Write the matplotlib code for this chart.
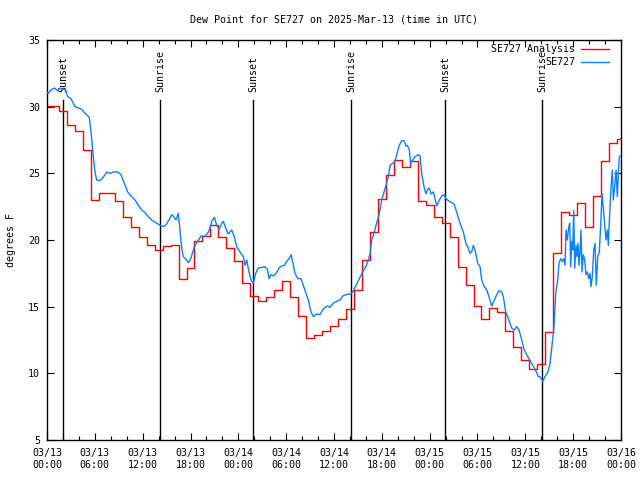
import numpy as np
import matplotlib
matplotlib.use("Agg")
from matplotlib import pyplot as plt
from matplotlib.ticker import MultipleLocator

# hours since 03/13 00:00 UTC
analysis_hours = list(range(73))
analysis_vals = [30.05, 30.05, 29.65, 28.6, 28.2, 26.75, 23.0, 23.5, 23.5, 22.95,
                 21.7, 20.95, 20.25, 19.6, 19.25, 19.55, 19.6, 17.1, 17.9, 19.9,
                 20.3, 21.1, 20.25, 19.4, 18.4, 16.75, 15.8, 15.4, 15.7, 16.25,
                 16.9, 15.7, 14.3, 12.65, 12.9, 13.2, 13.55, 14.1, 14.8, 16.25,
                 18.5, 20.6, 23.1, 24.9, 26.0, 25.45, 25.9, 22.9, 22.6, 21.7,
                 21.3, 20.2, 17.95, 16.6, 15.05, 14.1, 14.9, 14.6, 13.2, 11.95,
                 11.0, 10.3, 10.7, 13.1, 19.0, 22.1, 21.85, 22.8, 21.0, 23.3,
                 25.9, 27.3, 27.55]

obs_hours = [0.0, 0.16, 0.5, 0.92, 1.34, 1.63, 2.04, 2.35, 2.6, 3.01,
             3.51, 3.93, 4.35, 4.77, 5.31, 5.52, 5.81, 6.02, 6.23, 6.65,
             7.06, 7.49, 7.9, 8.32, 8.87, 9.28, 9.7, 10.12, 10.62, 11.04,
             11.45, 11.88, 12.29, 12.71, 13.13, 13.64, 14.17, 14.59, 14.89, 15.3,
             15.64, 15.97, 16.18, 16.47, 16.68, 16.9, 17.1, 17.52, 17.72, 18.03,
             18.48, 18.9, 19.32, 19.73, 20.16, 20.45, 20.66, 20.99, 21.29, 21.61,
             21.91, 22.12, 22.42, 22.74, 23.17, 23.49, 23.8, 24.21, 24.62, 24.84,
             25.05, 25.34, 25.59, 25.88, 26.18, 26.5, 26.93, 27.35, 27.68, 27.85,
             28.1, 28.39, 28.81, 29.1, 29.44, 29.77, 30.07, 30.36, 30.61, 30.77,
             31.11, 31.45, 31.86, 32.15, 32.45, 32.78, 33.12, 33.4, 33.83, 34.24,
             34.58, 34.87, 35.21, 35.5,
             35.91, 36.34, 36.75, 37.09, 37.51, 38.01, 38.35, 38.76, 39.17, 39.6,
             40.01, 40.3, 40.52, 40.73, 41.02, 41.27, 41.56, 41.77, 41.98, 42.27,
             42.52, 42.81, 43.03, 43.36, 43.65, 43.87, 44.19, 44.49, 44.78, 45.03,
             45.2, 45.45, 45.62, 45.87, 46.16, 46.58, 46.79, 47.0, 47.29, 47.54,
             47.7, 47.95, 48.17, 48.46, 48.67, 48.88, 49.21, 49.51, 49.8, 50.05,
             50.34, 50.76, 51.05, 51.3, 51.59, 51.89, 52.22, 52.55, 52.84, 53.06,
             53.27, 53.47, 53.69,
             54.03, 54.32, 54.53, 54.86, 55.16, 55.44, 55.78, 56.11, 56.41, 56.7,
             57.03, 57.24, 57.54, 57.87, 58.29, 58.62, 58.92, 59.21, 59.55, 59.87,
             60.17, 60.46, 60.8, 61.13, 61.43, 61.63, 61.84, 62.18, 62.47, 62.81,
             63.1, 63.38, 63.6, 63.81, 64.06, 64.22, 64.44, 64.64, 64.81, 64.98,
             65.1, 65.27, 65.44, 65.57, 65.69, 65.82, 65.94, 66.07, 66.19, 66.36,
             66.48, 66.61, 66.73, 66.86, 66.98, 67.11, 67.27, 67.45, 67.61, 67.78,
             67.95, 68.11, 68.24, 68.4, 68.58, 68.74, 68.9, 69.08, 69.28, 69.49,
             69.62, 69.78, 69.96, 70.12, 70.29, 70.41, 70.59, 70.75, 70.91, 71.04,
             71.21, 71.38, 71.54, 71.67, 71.79, 71.96]
obs_vals = [31.1, 31.0, 31.25, 31.4, 31.2, 31.4, 31.3, 31.25, 30.75, 30.6,
            30.0, 29.9, 29.8, 29.5, 29.2, 28.1, 26.25, 25.1, 24.5, 24.45,
            24.7, 25.1, 25.0, 25.1, 25.1, 24.9, 24.25, 23.6, 23.25, 23.0,
            22.6, 22.25, 22.05, 21.75, 21.5, 21.3, 21.1, 21.0, 21.1, 21.5,
            21.9, 21.7, 21.5, 22.0, 20.75, 19.4, 18.75, 18.5, 18.3, 18.6,
            19.5, 19.9, 20.3, 20.25, 20.5, 20.9, 21.4, 21.7, 21.1, 20.8,
            21.25, 21.4, 20.9, 20.45, 20.75, 20.25, 19.5, 19.1, 18.75, 18.1,
            18.5, 17.6, 17.0, 16.75, 17.5, 17.9, 17.95, 18.0, 17.75, 17.1,
            17.4, 17.3, 17.55, 17.9, 18.05, 18.1, 18.4, 18.6, 18.9, 18.5,
            17.5, 17.1, 17.1, 16.6, 16.1, 15.5, 14.6, 14.25, 14.45, 14.4,
            14.75, 14.95, 15.05, 14.95,
            15.25, 15.4, 15.5, 15.8, 15.9, 15.95, 16.1, 16.6, 17.1, 17.6,
            18.0, 18.5, 18.95, 20.0, 20.5, 21.1, 21.7, 22.25, 23.0, 23.6,
            24.1, 24.75, 25.6, 25.75, 25.9, 26.4, 27.1, 27.45, 27.45, 27.05,
            27.1, 26.75, 25.75, 26.0, 26.25, 26.4, 26.3, 25.0, 24.0, 23.45,
            23.75, 23.9, 23.45, 23.6, 23.1, 22.55, 23.0, 23.3, 23.4, 23.1,
            22.95, 22.8, 22.7, 22.25, 21.7, 21.1, 20.6, 19.75, 19.4, 19.0,
            19.1, 19.6, 19.25,
            18.25, 18.0, 17.0, 16.5, 16.25, 15.75, 15.05, 15.5, 15.9, 16.2,
            16.1, 15.75, 14.6, 14.1, 13.4, 13.25, 13.5, 13.25, 12.5, 11.75,
            11.4, 11.1, 10.75, 10.4, 10.05, 9.75, 9.75, 9.4, 9.75, 10.05,
            10.75, 12.25, 13.5, 16.0, 17.0, 18.25, 18.6, 18.4, 18.6, 18.1,
            20.75, 20.0, 21.0, 21.25, 18.0, 19.9, 19.25, 22.2, 17.9, 19.6,
            18.75, 19.75, 18.1, 19.0, 20.75, 17.6, 18.9, 18.5, 17.4, 17.6,
            17.1, 17.5, 16.5, 17.25, 19.25, 19.75, 16.6, 18.75, 19.1, 21.6,
            23.5, 22.4, 21.25, 20.0, 20.75, 19.6, 22.1, 24.0, 25.25, 23.0,
            24.0, 25.25, 23.25, 25.0, 26.25, 26.3]

sun_hours = [2.0, 14.17, 25.84, 38.13, 49.92, 62.09]
sun_labels = ["Sunset", "Sunrise", "Sunset", "Sunrise", "Sunset", "Sunrise"]

tick_hours = list(range(0, 73, 6))
tick_labels = ["03/13\n00:00", "03/13\n06:00", "03/13\n12:00", "03/13\n18:00",
               "03/14\n00:00", "03/14\n06:00", "03/14\n12:00", "03/14\n18:00",
               "03/15\n00:00", "03/15\n06:00", "03/15\n12:00", "03/15\n18:00",
               "03/16\n00:00"]

plt.rcParams['font.family'] = ['DejaVu Sans Mono']
fs = 7.2

fig = plt.figure(figsize=(6.4, 4.8), dpi=100)
ax = fig.add_axes([47 / 640, 40 / 480, 574 / 640, 400 / 480])

for h, lab in zip(sun_hours, sun_labels):
    ax.axvline(h, ymin=0, ymax=0.85, color='black', lw=1.0, zorder=1)
    ax.text(h, 0.87, lab, rotation=90, ha='center', va='bottom', fontsize=fs,
            transform=ax.get_xaxis_transform())

ax.plot(analysis_hours, analysis_vals, drawstyle='steps-mid', color='#ff0000', lw=1.0, zorder=2)
ax.plot(obs_hours, obs_vals, color='#0a80ff', lw=1.0, zorder=3)

ax.set_xlim(0, 72)
ax.set_ylim(5, 35)
ax.set_xticks(tick_hours)
ax.set_xticklabels(tick_labels, fontsize=fs)
ax.xaxis.set_minor_locator(MultipleLocator(2))
ax.yaxis.set_major_locator(MultipleLocator(5))
ax.tick_params(axis='both', which='both', direction='in', top=True, right=True)
ax.tick_params(axis='both', which='major', length=5, width=0.8)
ax.tick_params(axis='both', which='minor', length=3, width=0.8)
ax.tick_params(axis='x', which='major', pad=6)
ax.tick_params(axis='y', which='major', pad=5, labelsize=fs)
for s in ax.spines.values():
    s.set_linewidth(1.0)

# legend, gnuplot style: right-aligned text, sample line to the right
ax.text(0.92, 0.9775, "SE727 Analysis", ha='right', va='center', fontsize=fs, transform=ax.transAxes)
ax.plot([0.930, 0.979], [0.9775, 0.9775], color='#ff0000', lw=1.0, transform=ax.transAxes)
ax.text(0.92, 0.945, "SE727", ha='right', va='center', fontsize=fs, transform=ax.transAxes)
ax.plot([0.930, 0.979], [0.945, 0.945], color='#0a80ff', lw=1.0, transform=ax.transAxes)

fig.text(334 / 640, 1 - 19 / 480, "Dew Point for SE727 on 2025-Mar-13 (time in UTC)",
         ha='center', va='center', fontsize=fs)
fig.text(11 / 640, 0.5, "degrees F", rotation=90, ha='center', va='center', fontsize=fs)

fig.savefig("out.png", dpi=100)
